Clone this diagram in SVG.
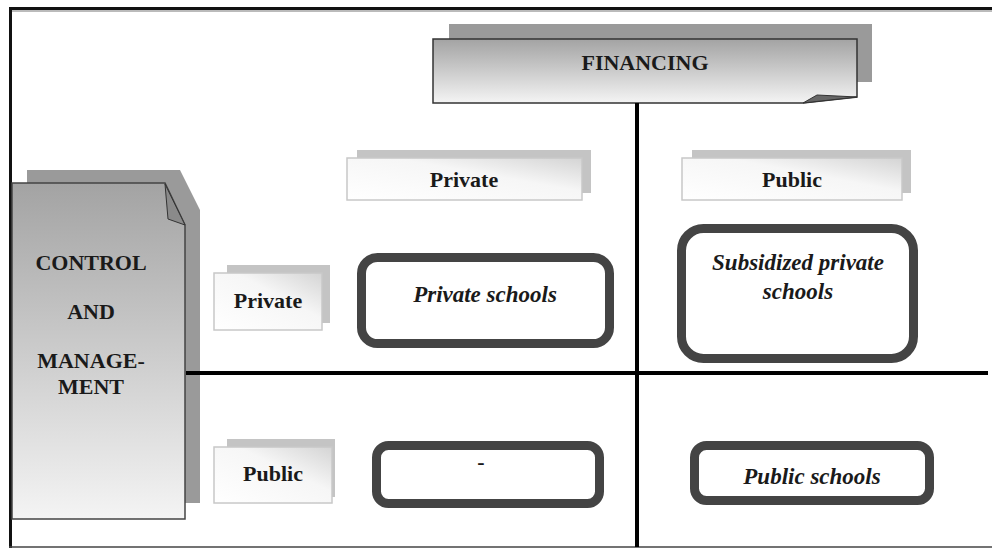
<svg xmlns="http://www.w3.org/2000/svg" width="992" height="549" viewBox="0 0 992 549">
<style>
.lbl{font-family:"Liberation Serif","Times New Roman",serif;font-weight:bold;font-size:22px;fill:#1a1a1a;text-anchor:middle}
.it{font-family:"Liberation Serif","Times New Roman",serif;font-weight:bold;font-style:italic;font-size:23px;fill:#1a1a1a;text-anchor:middle}
.shadow{fill:#9a9a9a}
.lshadow{fill:#c4c4c4}
.lfront{fill:url(#lightGrad);stroke:#c8c8c8;stroke-width:1.5}
.rbox{fill:#ffffff;stroke:#444444;stroke-width:9}
.line{stroke:#000000;stroke-width:4;fill:none}
</style>
<defs>
<linearGradient id="darkGrad" x1="0" y1="0" x2="0" y2="1">
<stop offset="0" stop-color="#a3a3a3"/>
<stop offset="1" stop-color="#f4f4f4"/>
</linearGradient>
<linearGradient id="lightGrad" x1="0" y1="1" x2="1" y2="0">
<stop offset="0" stop-color="#ffffff"/>
<stop offset="0.6" stop-color="#f6f6f6"/>
<stop offset="1" stop-color="#d4d4d4"/>
</linearGradient>
</defs>
<rect width="992" height="549" fill="#ffffff"/>
<g id="frame">
<line x1="9" y1="8.5" x2="992" y2="8.5" stroke="#111" stroke-width="3"/>
<line x1="9" y1="11" x2="992" y2="11" stroke="#bbb" stroke-width="2"/>
<line x1="10.5" y1="7" x2="10.5" y2="548" stroke="#111" stroke-width="3"/>
<line x1="9" y1="547" x2="992" y2="547" stroke="#444" stroke-width="1.5"/>
</g>
<g id="financing">
<rect class="shadow" x="449" y="24" width="423" height="58"/>
<path d="M433 39 H857 V97 L803 103 H433 Z" fill="url(#darkGrad)" stroke="#333" stroke-width="1.5"/>
<path d="M803 103 L817 95 L857 97 Z" fill="#666" stroke="#333" stroke-width="1"/>
<text class="lbl" x="645" y="70" font-size="23">FINANCING</text>
</g>
<g id="control">
<path class="shadow" d="M27 170 H180 L200 210 V503 H27 Z"/>
<path d="M12 183 H165 L185 225 V519 H12 Z" fill="url(#darkGrad)" stroke="#444" stroke-width="1.5"/>
<path d="M165 184 L185 225 L168 219 Z" fill="#8a8a8a" stroke="#333" stroke-width="1"/>
<text class="lbl" x="91" y="270">CONTROL</text>
<text class="lbl" x="91" y="319">AND</text>
<text class="lbl" x="91" y="368">MANAGE-</text>
<text class="lbl" x="91" y="394">MENT</text>
</g>
<g id="fin-private">
<rect class="lshadow" x="357" y="150" width="234" height="43"/>
<rect class="lfront" x="347" y="158" width="235" height="42"/>
<text class="lbl" x="464" y="187">Private</text>
</g>
<g id="fin-public">
<rect class="lshadow" x="692" y="150" width="219" height="43"/>
<rect class="lfront" x="682" y="158" width="220" height="42"/>
<text class="lbl" x="792" y="187">Public</text>
</g>
<g id="ctl-private">
<rect class="lshadow" x="227" y="265" width="103" height="58"/>
<rect class="lfront" x="214" y="273" width="108" height="57"/>
<text class="lbl" x="268" y="308">Private</text>
</g>
<g id="ctl-public">
<rect class="lshadow" x="227" y="439" width="108" height="58"/>
<rect class="lfront" x="214" y="447" width="118" height="56"/>
<text class="lbl" x="273" y="481">Public</text>
</g>
<g id="private-schools">
<rect class="rbox" x="361.5" y="257.5" width="248" height="86" rx="16"/>
<text class="it" x="485" y="302">Private schools</text>
</g>
<g id="subsidized">
<rect class="rbox" x="681.5" y="228.5" width="232" height="130" rx="22"/>
<text class="it" x="798" y="270">Subsidized private</text>
<text class="it" x="798" y="299">schools</text>
</g>
<g id="blank">
<rect class="rbox" x="376.5" y="445.5" width="223" height="58" rx="12"/>
<text class="lbl" x="481" y="469" font-size="10">-</text>
</g>
<g id="public-schools">
<rect class="rbox" x="694.5" y="445.5" width="235" height="55" rx="12"/>
<text class="it" x="812" y="484">Public schools</text>
</g>
<g id="connectors">
<line class="line" x1="637" y1="103" x2="637" y2="547"/>
<line class="line" x1="186" y1="373" x2="988" y2="373"/>
</g>
</svg>
